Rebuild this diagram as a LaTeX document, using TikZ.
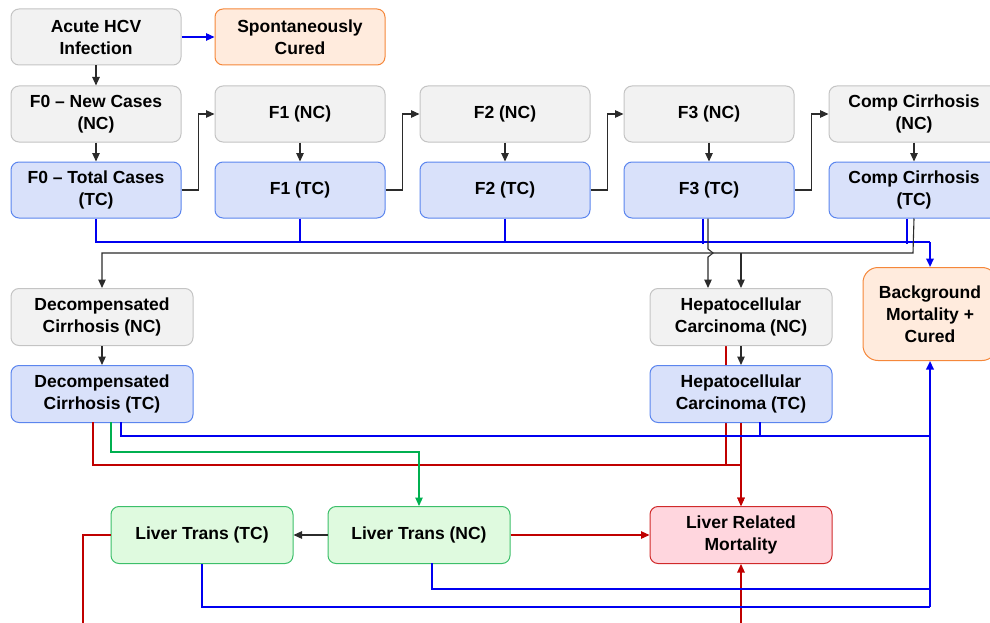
\documentclass[tikz,border=0pt]{standalone}
\usepackage{fontspec}
\setmainfont{Liberation Sans}
\usetikzlibrary{arrows.meta,backgrounds}

\definecolor{ncfill}{HTML}{F2F2F2}
\definecolor{ncline}{HTML}{C4C4C4}
\definecolor{tcfill}{HTML}{D9E1FA}
\definecolor{tcline}{HTML}{5B85EE}
\definecolor{orfill}{HTML}{FFEBDD}
\definecolor{orline}{HTML}{F5873A}
\definecolor{grfill}{HTML}{DFFADF}
\definecolor{grline}{HTML}{3CBF6A}
\definecolor{rdfill}{HTML}{FFD6DE}
\definecolor{rdline}{HTML}{D02A2A}
\definecolor{bluelink}{HTML}{0000F0}
\definecolor{redlink}{HTML}{C00000}
\definecolor{greenlink}{HTML}{00B050}
\definecolor{blacklink}{HTML}{2B2B2B}

\begin{document}
\begin{tikzpicture}[x=1pt,y=-1pt,
  box/.style={draw,rounded corners=8pt,line width=1pt,align=center,inner sep=2pt,
    minimum width=170pt,minimum height=56pt,font=\fontsize{17.5}{22}\selectfont\bfseries},
  nc/.style={box,fill=ncfill,draw=ncline},
  tc/.style={box,fill=tcfill,draw=tcline},
  wide/.style={minimum width=182pt,minimum height=57pt},
  tip/.style={-{Triangle[length=8.5pt,width=7.5pt]}},
  blk/.style={blacklink,line width=1.1pt},
  blu/.style={bluelink,line width=1.1pt},
  red/.style={redlink,line width=1.1pt},
  grn/.style={greenlink,line width=1.1pt}]
\useasboundingbox (0,0) rectangle (990,623);
\clip (0,0) rectangle (990,623);

\node[nc] (acute) at (96,37) {Acute HCV\\Infection};
\node[box,fill=orfill,draw=orline] (spont) at (300,37) {Spontaneously\\Cured};
\node[nc] (f0n) at (96,114) {F0 -- New Cases\\(NC)};
\node[tc] (f0t) at (96,190) {F0 -- Total Cases\\(TC)};
\node[nc] (f1n) at (300,114) {F1 (NC)};
\node[tc] (f1t) at (300,190) {F1 (TC)};
\node[nc] (f2n) at (505,114) {F2 (NC)};
\node[tc] (f2t) at (505,190) {F2 (TC)};
\node[nc] (f3n) at (709,114) {F3 (NC)};
\node[tc] (f3t) at (709,190) {F3 (TC)};
\node[nc] (ccn) at (914,114) {Comp Cirrhosis\\(NC)};
\node[tc] (cct) at (914,190) {Comp Cirrhosis\\(TC)};
\node[box,fill=orfill,draw=orline,rounded corners=15pt,minimum width=134pt,minimum height=93pt] (bg) at (930,314) {Background\\Mortality +\\Cured};
\node[nc,wide] (dcn) at (102,317) {Decompensated\\Cirrhosis (NC)};
\node[tc,wide] (dct) at (102,394) {Decompensated\\Cirrhosis (TC)};
\node[nc,wide] (hcn) at (741,317) {Hepatocellular\\Carcinoma (NC)};
\node[tc,wide] (hct) at (741,394) {Hepatocellular\\Carcinoma (TC)};
\node[box,wide,fill=rdfill,draw=rdline] (lrm) at (741,535) {Liver Related\\Mortality};
\node[box,wide,fill=grfill,draw=grline] (ltt) at (202,535) {Liver Trans (TC)};
\node[box,wide,fill=grfill,draw=grline] (ltn) at (419,535) {Liver Trans (NC)};

\coordinate (btop) at (930,242);
\coordinate (bmid) at (930,436);
\coordinate (kline) at (913,253);
\coordinate (rline) at (741,465);

\draw[blu,tip] (acute) -- (spont);
\draw[blk,tip] (acute) -- (f0n);
\draw[blk,tip] (f0n) -- (f0t);
\draw[blk,tip] (f1n) -- (f1t);
\draw[blk,tip] (f2n) -- (f2t);
\draw[blk,tip] (f3n) -- (f3t);
\draw[blk,tip] (ccn) -- (cct);
\draw[blk,tip] (f0t.east) -- ++(17,0) |- (f1n.west);
\draw[blk,tip] (f1t.east) -- ++(17,0) |- (f2n.west);
\draw[blk,tip] (f2t.east) -- ++(17,0) |- (f3n.west);
\draw[blk,tip] (f3t.east) -- ++(17,0) |- (ccn.west);

\draw[blu] (f0t.south) |- (btop);
\draw[blu,line width=2pt,tip] (btop) -- (bg.north);
\draw[blu] (f1t.south) -- (f1t.south |- btop);
\draw[blu] (f2t.south) -- (f2t.south |- btop);
\draw[blu] ([xshift=-6pt]f3t.south) -- ++(0,25);
\draw[blu] ([xshift=-7pt]cct.south) -- ++(0,25);

\draw[blk,tip] (cct.south) -- (kline) -| (dcn.north);
\draw[blk,tip] (hcn.north |- kline) -- (hcn.north);
\draw[blk,tip] ([xshift=-1pt]f3t.south) -- (708,249) -- (713,253) -- (708,257) -- (708,288);

\draw[blk,tip] (dcn) -- (dct);
\draw[blk,tip] (hcn) -- (hct);

\begin{scope}[on background layer]
\draw[red] ([xshift=-15pt]hcn.south) -- (726,465);
\end{scope}
\draw[red,tip] (93,422) |- (rline) -- (lrm.north);
\draw[red,tip] (hct.south) -- (lrm.north);
\draw[grn,tip] (111,422) |- (419,452) -- (ltn.north);
\draw[blu] (121,422) |- (bmid);
\draw[blu] (760,422) -- (760,436);
\draw[blu,line width=2pt,tip] (930,607) -- (bg.south);

\draw[blk,tip] (ltn) -- (ltt);
\draw[red,tip] (ltn) -- (lrm);
\draw[red,tip] (ltt.west) -| (83,640) -| (lrm.south);
\draw[blu] (432,563) |- (930,589);
\draw[blu] (ltt.south) |- (930,607);
\end{tikzpicture}
\end{document}
